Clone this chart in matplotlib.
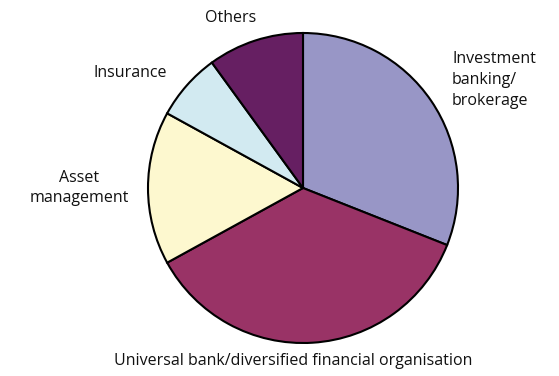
import matplotlib
matplotlib.use("Agg")
import matplotlib.pyplot as plt

categories = ["Investment banking/\nbrokerage", "Universal bank/diversified financial organisation",
              "Asset management", "Insurance", "Others"]
values = [31, 36, 16, 7, 10]
colors = ["#9896c6", "#993366", "#fdf8cf", "#d2eaf1", "#661f62"]

plt.rcParams['font.family'] = ['Open Sans', 'DejaVu Sans']

W, H = 559, 376
fig = plt.figure(figsize=(W / 100, H / 100), dpi=100)
ax = fig.add_axes([0, 0, 1, 1])
cx, cy, R = 303, 188, 155
ax.pie(values, colors=colors, startangle=90, counterclock=False, radius=1,
       wedgeprops=dict(edgecolor="black", linewidth=1.5))
ax.set_xlim(-cx / R, (W - cx) / R)
ax.set_ylim((cy - H) / R, cy / R)
ax.set_aspect('auto')
ax.axis('off')

def P(px, py):
    return (px - cx) / R, (cy - py) / R

fs = 11.5
tc = "#111111"
x, y = P(452, 80)
ax.text(x, y, "Investment\nbanking/\nbrokerage", ha="left", va="center", fontsize=fs,
        color=tc, linespacing=1.4)
x, y = P(293, 361)
ax.text(x, y, "Universal bank/diversified financial organisation", ha="center", va="center",
        fontsize=fs, color=tc)
x, y = P(79, 188)
ax.text(x, y, "Asset\nmanagement", ha="center", va="center", fontsize=fs, color=tc,
        linespacing=1.4)
x, y = P(130, 73)
ax.text(x, y, "Insurance", ha="center", va="center", fontsize=fs, color=tc)
x, y = P(231, 18)
ax.text(x, y, "Others", ha="center", va="center", fontsize=fs, color=tc)

fig.savefig("out.png", dpi=100)
